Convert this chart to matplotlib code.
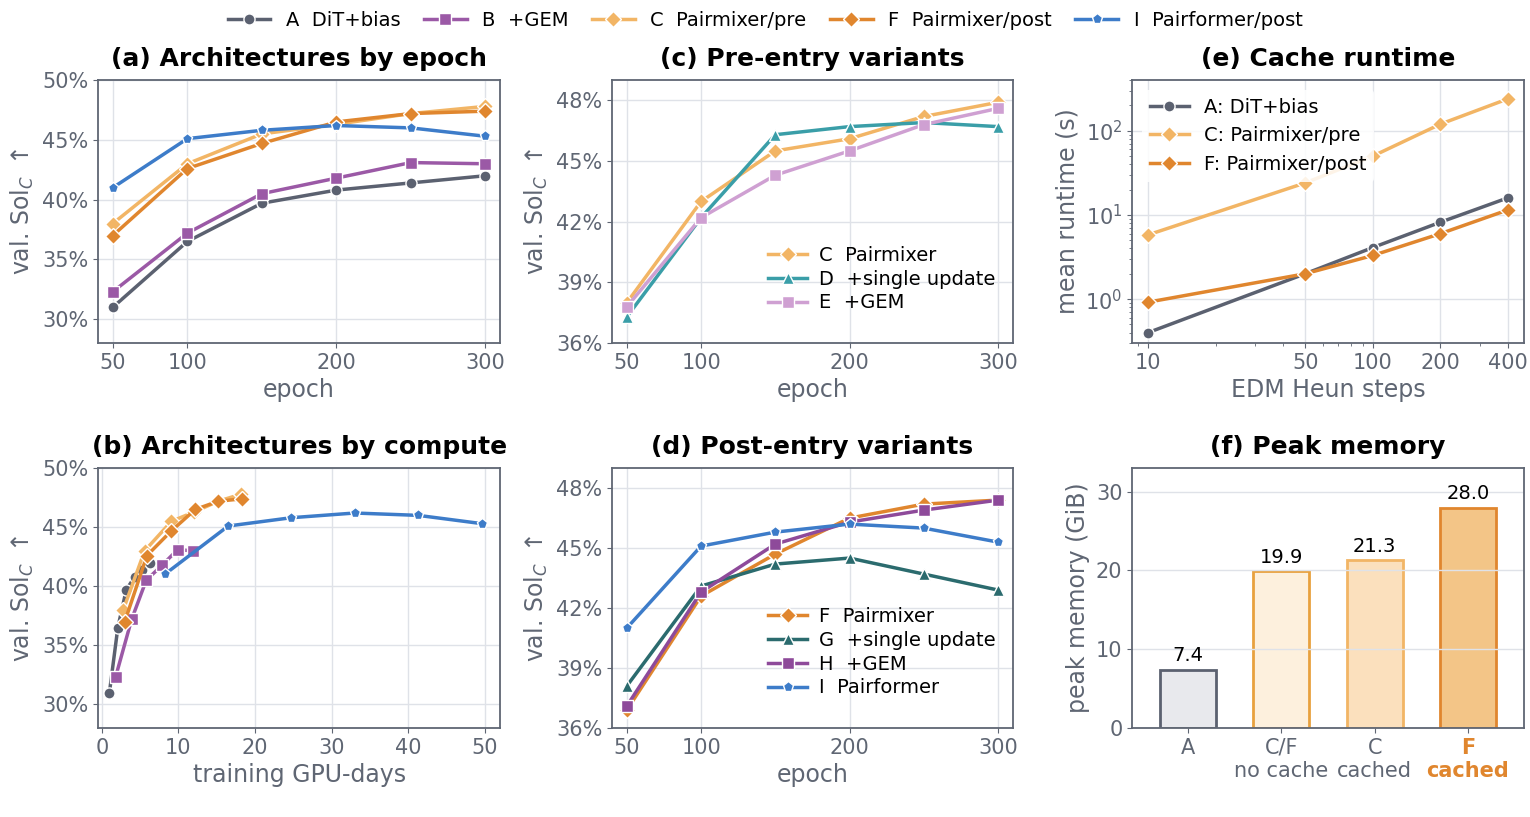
import matplotlib
matplotlib.use("Agg")
import matplotlib.pyplot as plt
from matplotlib.ticker import FuncFormatter

epochs = [50, 100, 150, 200, 250, 300]
# panel a / b
sol_A = [31.0, 36.5, 39.7, 40.8, 41.4, 42.0]
sol_B = [32.3, 37.2, 40.5, 41.8, 43.1, 43.0]
sol_C = [38.0, 43.0, 45.5, 46.3, 47.2, 47.8]
sol_F = [37.0, 42.6, 44.7, 46.5, 47.2, 47.4]
sol_I = [41.0, 45.1, 45.8, 46.2, 46.0, 45.3]
gpu_A = [1.0, 2.1, 3.2, 4.3, 5.3, 6.3]
gpu_B = [1.8, 3.9, 5.8, 7.9, 9.9, 11.9]
gpu_C = [2.8, 5.6, 9.1, 12.1, 15.2, 18.2]
gpu_F = [3.0, 5.9, 9.1, 12.2, 15.2, 18.3]
gpu_I = [8.2, 16.5, 24.7, 33.0, 41.3, 49.6]
# panel c
pre_C = [38.0, 43.0, 45.5, 46.1, 47.2, 47.9]
pre_D = [37.3, 42.2, 46.3, 46.7, 46.9, 46.7]
pre_E = [37.8, 42.2, 44.3, 45.5, 46.8, 47.6]
# panel d
post_F = [36.9, 42.6, 44.7, 46.5, 47.2, 47.4]
post_G = [38.1, 43.1, 44.2, 44.5, 43.7, 42.9]
post_H = [37.1, 42.8, 45.2, 46.3, 46.9, 47.4]
post_I = [41.0, 45.1, 45.8, 46.2, 46.0, 45.3]
# panel e
steps = [10, 50, 100, 200, 400]
rt_A = [0.4, 2.0, 4.1, 8.2, 16.0]
rt_C = [5.8, 24.0, 50.0, 120.0, 240.0]
rt_F = [0.92, 2.0, 3.3, 6.0, 11.5]
# panel f
mem_labels = ["A", "C/F\nno cache", "C\ncached", "F\ncached"]
mem_vals = [7.4, 19.9, 21.3, 28.0]

cA, cB, cC, cF, cI = "#5b6170", "#9b59a6", "#f2b565", "#e0862e", "#3d7cc9"
cD, cE, cG, cH = "#3a9ea8", "#cfa0d2", "#2b6b6e", "#8e4a9a"
gray = "#5f6673"

plt.rcParams.update({
    "font.family": "DejaVu Sans", "font.size": 14,
    "axes.edgecolor": gray, "axes.linewidth": 1.3,
    "xtick.color": gray, "ytick.color": gray,
    "xtick.labelcolor": gray, "ytick.labelcolor": gray,
    "axes.labelcolor": gray, "axes.grid": True,
    "grid.color": "#dfe2e8", "grid.linewidth": 1.0,
    "xtick.labelsize": 15, "ytick.labelsize": 15, "axes.labelsize": 17,
    "axes.titlesize": 18, "axes.titleweight": "bold", "axes.titlepad": 10,
})

fig = plt.figure(figsize=(15.3, 8.17), dpi=100)
pct = FuncFormatter(lambda v, p: f"{v:.0f}%")

def add(ax, x, y, c, m, label, ms=8):
    ax.plot(x, y, color=c, marker=m, label=label, lw=2.5, ms=ms, mec="white", mew=1)

top_b, top_h = 0.580, 0.322
bot_b, bot_h = 0.109, 0.318
pos = {"a": [0.064, top_b, 0.263, top_h], "b": [0.064, bot_b, 0.263, bot_h],
       "c": [0.400, top_b, 0.262, top_h], "d": [0.400, bot_b, 0.262, bot_h],
       "e": [0.740, top_b, 0.256, top_h], "f": [0.740, bot_b, 0.256, bot_h]}

# (a)
ax = fig.add_axes(pos["a"])
for y, c, m, l in [(sol_A, cA, "o", "A  DiT+bias"), (sol_B, cB, "s", "B  +GEM"),
                   (sol_C, cC, "D", "C  Pairmixer/pre"), (sol_F, cF, "D", "F  Pairmixer/post"),
                   (sol_I, cI, "p", "I  Pairformer/post")]:
    add(ax, epochs, y, c, m, l)
ax.set_ylim(28, 50); ax.set_yticks([30, 35, 40, 45, 50]); ax.yaxis.set_major_formatter(pct)
ax.set_xlim(40, 310); ax.set_xticks([50, 100, 200, 300])
ax.set_xlabel("epoch"); ax.set_ylabel(r"val. Sol$_C$ $\uparrow$")
ax.set_title("(a) Architectures by epoch")
handles, labels = ax.get_legend_handles_labels()
fig.legend(handles, labels, loc="upper center", ncol=5, frameon=False, fontsize=14,
           bbox_to_anchor=(0.5, 1.008), handlelength=2.2, columnspacing=1.2)

# (b)
ax = fig.add_axes(pos["b"])
add(ax, gpu_A, sol_A, cA, "o", None)
add(ax, gpu_B, sol_B, cB, "s", None)
add(ax, gpu_C, sol_C, cC, "D", None)
add(ax, gpu_F, sol_F, cF, "D", None)
add(ax, gpu_I, sol_I, cI, "p", None)
ax.set_ylim(28, 50); ax.set_yticks([30, 35, 40, 45, 50]); ax.yaxis.set_major_formatter(pct)
ax.set_xlim(-0.5, 52); ax.set_xticks([0, 10, 20, 30, 40, 50])
ax.set_xlabel("training GPU-days"); ax.set_ylabel(r"val. Sol$_C$ $\uparrow$")
ax.set_title("(b) Architectures by compute")

# (c)
ax = fig.add_axes(pos["c"])
add(ax, epochs, pre_C, cC, "D", "C  Pairmixer")
add(ax, epochs, pre_D, cD, "^", "D  +single update")
add(ax, epochs, pre_E, cE, "s", "E  +GEM")
ax.set_ylim(36, 49); ax.set_yticks([36, 39, 42, 45, 48]); ax.yaxis.set_major_formatter(pct)
ax.set_xlim(40, 310); ax.set_xticks([50, 100, 200, 300])
ax.set_xlabel("epoch"); ax.set_ylabel(r"val. Sol$_C$ $\uparrow$")
ax.set_title("(c) Pre-entry variants")
ax.legend(loc="lower right", frameon=False, fontsize=14, bbox_to_anchor=(1.0, 0.05),
          handletextpad=0.6, labelspacing=0.25)

# (d)
ax = fig.add_axes(pos["d"])
add(ax, epochs, post_F, cF, "D", "F  Pairmixer")
add(ax, epochs, post_G, cG, "^", "G  +single update")
add(ax, epochs, post_H, cH, "s", "H  +GEM")
add(ax, epochs, post_I, cI, "p", "I  Pairformer")
ax.set_ylim(36, 49); ax.set_yticks([36, 39, 42, 45, 48]); ax.yaxis.set_major_formatter(pct)
ax.set_xlim(40, 310); ax.set_xticks([50, 100, 200, 300])
ax.set_xlabel("epoch"); ax.set_ylabel(r"val. Sol$_C$ $\uparrow$")
ax.set_title("(d) Post-entry variants")
ax.legend(loc="lower right", frameon=False, fontsize=14, bbox_to_anchor=(1.0, 0.05),
          handletextpad=0.6, labelspacing=0.25)

# (e)
ax = fig.add_axes(pos["e"])
add(ax, steps, rt_A, cA, "o", "A: DiT+bias")
add(ax, steps, rt_C, cC, "D", "C: Pairmixer/pre")
add(ax, steps, rt_F, cF, "D", "F: Pairmixer/post")
ax.set_xscale("log"); ax.set_yscale("log")
ax.set_xlim(8.5, 470); ax.set_ylim(0.3, 400)
ax.set_xticks(steps); ax.set_xticklabels([str(s) for s in steps])
ax.set_yticks([1, 10, 100])
ax.set_xlabel("EDM Heun steps"); ax.set_ylabel("mean runtime (s)")
ax.set_title("(e) Cache runtime")
ax.legend(loc="upper left", fontsize=14, framealpha=0.85, edgecolor="none")

# (f)
ax = fig.add_axes(pos["f"])
faces = ["#e8e9ed", "#fdf0dd", "#fbe0bd", "#f3c587"]
edges = [cA, "#e8a13e", cC, cF]
xs = range(len(mem_vals))
bars = ax.bar(xs, mem_vals, width=0.6, color=faces, edgecolor=edges, linewidth=2)
for b, v in zip(bars, mem_vals):
    ax.text(b.get_x() + b.get_width() / 2, v + 0.6, f"{v:.1f}", ha="center", va="bottom",
            fontsize=14, color="black")
ax.set_xticks(list(xs)); ax.set_xticklabels(mem_labels)
ax.get_xticklabels()[3].set_color(cF); ax.get_xticklabels()[3].set_fontweight("bold")
ax.set_xlim(-0.6, 3.6); ax.set_ylim(0, 33); ax.set_yticks([0, 10, 20, 30])
ax.grid(axis="x", visible=False)
ax.set_ylabel("peak memory (GiB)")
ax.set_title("(f) Peak memory")

fig.savefig("out.png", dpi=100)
